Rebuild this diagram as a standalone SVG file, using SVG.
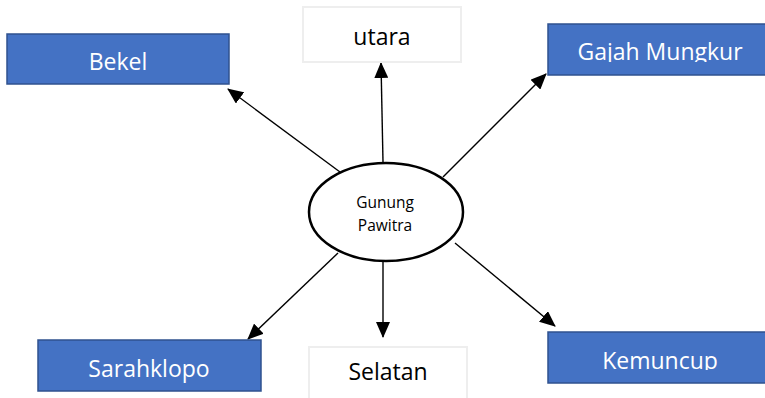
<svg xmlns="http://www.w3.org/2000/svg" width="765" height="398" viewBox="0 0 765 398">
  <style>
    .blue rect { fill: #4472C4; stroke: #2F528F; stroke-width: 1.5; }
    .plain rect { fill: #FFFFFF; stroke: #EEEEEE; stroke-width: 2; }
    .lbl-w { font-family: "Open Sans", "Noto Sans", "Liberation Sans", sans-serif; font-size: 23px; fill: #FFFFFF; text-anchor: middle; }
    .lbl-k { font-family: "Open Sans", "Noto Sans", "Liberation Sans", sans-serif; font-size: 23px; fill: #000000; text-anchor: middle; }
    .lbl-s { font-family: "Open Sans", "Noto Sans", "Liberation Sans", sans-serif; font-size: 15.5px; fill: #000000; text-anchor: middle; }
    .conn line { stroke: #000000; stroke-width: 1.4; marker-end: url(#arrow); }
  </style>
  <defs>
    <marker id="arrow" markerUnits="userSpaceOnUse" markerWidth="16" markerHeight="14" viewBox="0 0 16 14" refX="15" refY="7" orient="auto">
      <path d="M0,0 L16,7 L0,14 z" fill="#000000"/>
    </marker>
    <clipPath id="clipGajah"><rect x="548" y="24" width="217" height="38"/></clipPath>
    <clipPath id="clipKemuncup"><rect x="548" y="332" width="217" height="38"/></clipPath>
  </defs>

  <!-- connectors from the centre ellipse -->
  <g id="connectors" class="conn">
    <line x1="340" y1="172" x2="228" y2="89"/>
    <line x1="383" y1="162" x2="381" y2="63"/>
    <line x1="443" y1="177" x2="546" y2="74"/>
    <line x1="338" y1="253" x2="248" y2="339"/>
    <line x1="383" y1="261" x2="383" y2="337"/>
    <line x1="455" y1="243" x2="555" y2="326"/>
  </g>

  <g id="node-bekel" class="blue">
    <rect x="7" y="34" width="222" height="50"/>
    <text class="lbl-w" x="118" y="70">Bekel</text>
  </g>

  <g id="node-utara" class="plain">
    <rect x="303" y="7" width="158" height="55"/>
    <text class="lbl-k" x="382" y="45">utara</text>
  </g>

  <g id="node-gajah-mungkur" class="blue">
    <rect x="548" y="24" width="218" height="51"/>
    <text class="lbl-w" x="660" y="60" clip-path="url(#clipGajah)">Gajah Mungkur</text>
  </g>

  <g id="node-gunung-pawitra">
    <ellipse cx="386" cy="212" rx="77" ry="49" fill="#FFFFFF" stroke="#000000" stroke-width="2.5"/>
    <text class="lbl-s" x="385" y="208">Gunung</text>
    <text class="lbl-s" x="385" y="231">Pawitra</text>
  </g>

  <g id="node-sarahklopo" class="blue">
    <rect x="38" y="340" width="223" height="51"/>
    <text class="lbl-w" x="149" y="377">Sarahklopo</text>
  </g>

  <g id="node-selatan" class="plain">
    <rect x="309" y="347" width="158" height="55"/>
    <text class="lbl-k" x="388" y="380">Selatan</text>
  </g>

  <g id="node-kemuncup" class="blue">
    <rect x="548" y="332" width="218" height="51"/>
    <text class="lbl-w" x="660" y="369" clip-path="url(#clipKemuncup)">Kemuncup</text>
  </g>
</svg>
